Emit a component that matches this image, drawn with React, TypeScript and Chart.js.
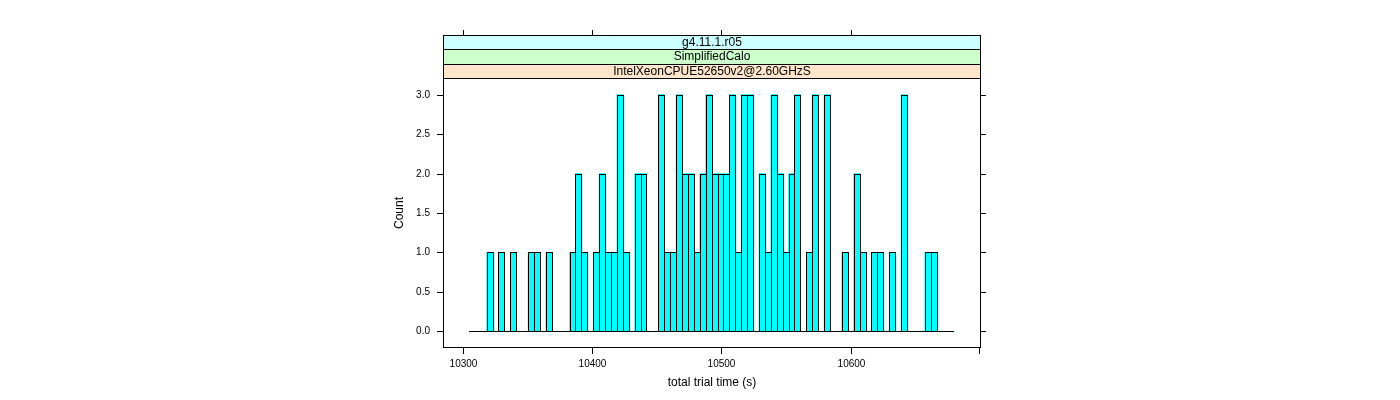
import React, { useEffect, useRef } from 'react';
import { Chart, registerables } from 'chart.js';

Chart.register(...registerables);

// ---- data ----
const stripLabels = ['g4.11.1.r05', 'SimplifiedCalo', 'IntelXeonCPUE52650v2@2.60GHzS'];
const stripColors = ['#ccffff', '#ccffcc', '#ffe5cc'];

const breakStart = 10304.9;
const binWidth = 4.573;
const counts = [
  0, 0, 0, 1, 0, 1, 0, 1, 0, 0,
  1, 1, 0, 1, 0, 0, 0, 1, 2, 1,
  0, 1, 2, 1, 1, 3, 1, 0, 2, 2,
  0, 0, 3, 1, 1, 3, 2, 2, 1, 2,
  3, 2, 2, 2, 3, 1, 3, 3, 0, 2,
  1, 3, 2, 1, 2, 3, 0, 1, 3, 0,
  3, 0, 0, 1, 0, 2, 1, 0, 1, 1,
  0, 1, 0, 3, 0, 0, 0, 1, 1, 0,
  0, 0,
];

const xTicks = [10300, 10400, 10500, 10600, 10700];
const xTickLabels = ['10300', '10400', '10500', '10600', ''];
const yTicks = [0, 0.5, 1, 1.5, 2, 2.5, 3];
const yTickLabels = ['0.0', '0.5', '1.0', '1.5', '2.0', '2.5', '3.0'];
const xLimits = [10284.9, 10700.5];
const yLimits = [-0.21, 3.21];
const xTitle = 'total trial time (s)';
const yTitle = 'Count';

const FONT = '"Liberation Sans", Arial, Helvetica, sans-serif';

const latticePlugin = {
  id: 'latticeDecor',
  afterDatasetsDraw(chart: any) {
    const ctx = chart.ctx;
    const xs = chart.scales.x;
    const ys = chart.scales.y;
    const area = chart.chartArea;
    ctx.save();
    ctx.lineWidth = 1;
    ctx.strokeStyle = '#000';

    // baseline across all breaks
    const bx0 = Math.round(xs.getPixelForValue(breakStart));
    const bx1 = Math.round(xs.getPixelForValue(breakStart + counts.length * binWidth));
    const by = Math.round(ys.getPixelForValue(0)) + 0.5;
    ctx.beginPath();
    ctx.moveTo(bx0, by);
    ctx.lineTo(bx1, by);
    ctx.stroke();

    // bar outlines
    const meta = chart.getDatasetMeta(0);
    meta.data.forEach((el: any, i: number) => {
      if (!counts[i]) return;
      const p = el.getProps(['x', 'y', 'base', 'width'], true);
      const l = Math.round(p.x - p.width / 2);
      const r = Math.round(p.x + p.width / 2);
      const t = Math.round(p.y);
      const b = Math.round(p.base);
      ctx.strokeRect(l + 0.5, t + 0.5, r - l, b - t);
    });
    ctx.restore();
  },
  afterDraw(chart: any) {
    const ctx = chart.ctx;
    const xs = chart.scales.x;
    const ys = chart.scales.y;
    const area = chart.chartArea;
    const L = Math.round(area.left);
    const R = Math.round(area.right);
    const T = Math.round(area.top);
    const B = Math.round(area.bottom);
    ctx.save();
    ctx.lineWidth = 1;
    ctx.strokeStyle = '#000';

    // strips
    const stripH = 14.5;
    const n = stripLabels.length;
    for (let k = 0; k < n; k++) {
      // k=0 is outermost (top)
      const top = Math.round(T - (n - k) * stripH);
      const bot = Math.round(T - (n - k - 1) * stripH);
      ctx.fillStyle = stripColors[k];
      ctx.fillRect(L, top, R - L, bot - top);
      ctx.strokeRect(L + 0.5, top + 0.5, R - L - 1, bot - top);
      ctx.fillStyle = '#000';
      ctx.font = `12px ${FONT}`;
      ctx.textAlign = 'center';
      ctx.textBaseline = 'middle';
      ctx.fillText(stripLabels[k], (L + R) / 2, (top + bot) / 2 + 0.5);
    }
    const stripTop = Math.round(T - n * stripH);

    // panel border
    ctx.strokeRect(L + 0.5, T + 0.5, R - L - 1, B - T - 1);

    // x ticks (bottom + top)
    ctx.font = `10px ${FONT}`;
    ctx.fillStyle = '#000';
    xTicks.forEach((v, i) => {
      const px = Math.round(xs.getPixelForValue(v)) + (v === xLimits[1] || v >= 10700 ? -0.5 : 0.5);
      ctx.beginPath();
      ctx.moveTo(px, B);
      ctx.lineTo(px, B + 6);
      ctx.stroke();
      if (xTickLabels[i]) {
        ctx.beginPath();
        ctx.moveTo(px, stripTop);
        ctx.lineTo(px, stripTop - 5);
        ctx.stroke();
        ctx.textAlign = 'center';
        ctx.textBaseline = 'middle';
        ctx.fillText(xTickLabels[i], px, 364);
      }
    });

    // y ticks (left + right)
    yTicks.forEach((v, i) => {
      const py = Math.round(ys.getPixelForValue(v)) + 0.5;
      ctx.beginPath();
      ctx.moveTo(L - 6, py);
      ctx.lineTo(L, py);
      ctx.moveTo(R, py);
      ctx.lineTo(R + 5, py);
      ctx.stroke();
      ctx.textAlign = 'right';
      ctx.textBaseline = 'middle';
      ctx.fillText(yTickLabels[i], 430, py);
    });

    // titles
    ctx.font = `12px ${FONT}`;
    ctx.textAlign = 'center';
    ctx.textBaseline = 'middle';
    ctx.fillText(xTitle, (L + R) / 2, 383);
    ctx.save();
    ctx.translate(400, (T + B) / 2);
    ctx.rotate(-Math.PI / 2);
    ctx.fillText(yTitle, 0, 0);
    ctx.restore();

    ctx.restore();
  },
};

export default function App() {
  const ref = useRef<HTMLCanvasElement | null>(null);
  useEffect(() => {
    if (!ref.current) return;
    const data = counts.map((c, i) => ({ x: breakStart + (i + 0.5) * binWidth, y: c }));
    const chart = new Chart(ref.current, {
      type: 'bar',
      data: {
        datasets: [
          {
            data,
            backgroundColor: '#00ffff',
            borderWidth: 0,
            barPercentage: 1,
            categoryPercentage: 1,
          } as any,
        ],
      },
      options: {
        animation: false,
        responsive: false,
        devicePixelRatio: 1,
        layout: { padding: { left: 443, right: 419, top: 78, bottom: 52 } },
        plugins: { legend: { display: false }, tooltip: { enabled: false } },
        scales: {
          x: { type: 'linear', min: xLimits[0], max: xLimits[1], offset: false, display: false },
          y: { type: 'linear', min: yLimits[0], max: yLimits[1], display: false },
        },
      },
      plugins: [latticePlugin],
    });
    return () => chart.destroy();
  }, []);
  return (
    <div style={{ position: 'absolute', left: 0, top: 0, width: 1400, height: 400, background: '#fff' }}>
      <canvas ref={ref} width={1400} height={400} style={{ display: 'block', width: 1400, height: 400 }} />
    </div>
  );
}
